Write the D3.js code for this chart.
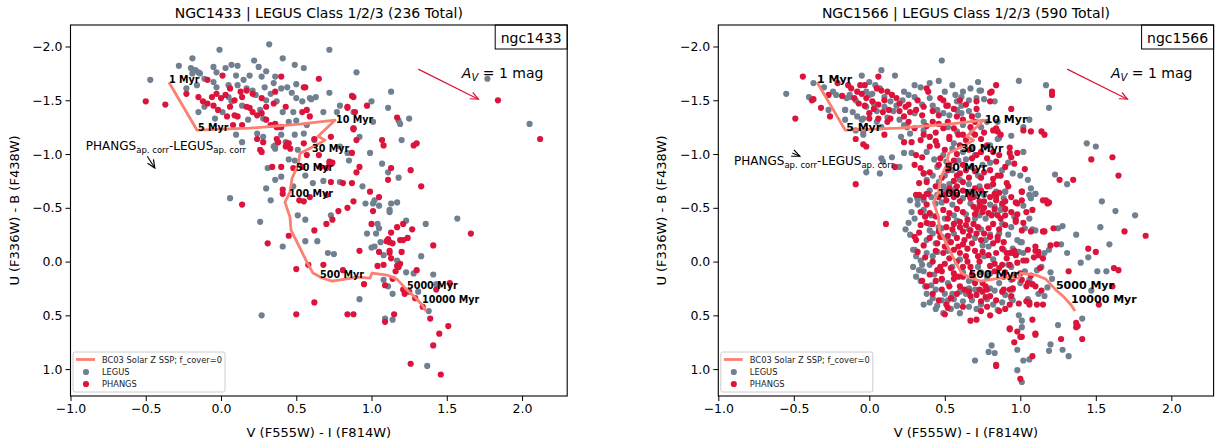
<!DOCTYPE html>
<html><head><meta charset="utf-8">
<script src="https://cdn.jsdelivr.net/npm/d3@7"></script>
<style>body{margin:0;background:#fff} text{font-family:"DejaVu Sans",sans-serif}</style>
</head><body><svg id="fig" width="1216" height="443"></svg>
<script>
// Colour-colour diagrams: V-I vs U-B for two galaxies, LEGUS vs PHANGS photometry
const xTicks = [-1.0, -0.5, 0.0, 0.5, 1.0, 1.5, 2.0];
const yTicks = [-2.0, -1.5, -1.0, -0.5, 0.0, 0.5, 1.0];

// BC03 solar-metallicity SSP track (V-I, U-B)
const sspTrack = [[-0.346,-1.668],[-0.159,-1.222],[0.193,-1.241],[0.525,-1.278],[0.757,-1.315],[0.645,-1.166],[0.691,-1.129],[0.618,-1.073],[0.525,-1.008],[0.512,-0.897],[0.472,-0.776],[0.458,-0.646],[0.425,-0.553],[0.458,-0.414],[0.465,-0.293],[0.525,-0.125],[0.571,0.005],[0.611,0.107],[0.671,0.153],[0.738,0.181],[0.824,0.163],[0.904,0.144],[0.990,0.153],[1.003,0.107],[1.103,0.125],[1.169,0.163],[1.236,0.265],[1.289,0.330],[1.336,0.404],[1.362,0.460]];
const ageLabels = ["1 Myr","5 Myr","10 Myr","30 Myr","50 Myr","100 Myr","500 Myr","5000 Myr","10000 Myr"];
const ageLabelPos = [[-0.346,-1.659],[-0.153,-1.213],[0.764,-1.287],[0.605,-1.018],[0.498,-0.841],[0.452,-0.599],[0.658,0.153],[1.236,0.256],[1.336,0.386]];

const ngc1433Legus = [[0.32,-2.02],[-0.01,-1.97],[0.72,-1.97],[-0.19,-1.89],[-0.28,-1.82],[-0.20,-1.80],[-0.17,-1.78],[-0.15,-1.76],[-0.19,-1.75],[-0.14,-1.75],[-0.05,-1.81],[0.03,-1.80],[0.11,-1.82],[0.07,-1.83],[0.22,-1.87],[0.25,-1.81],[0.30,-1.77],[0.41,-1.89],[0.49,-1.83],[0.55,-1.80],[0.36,-1.72],[0.27,-1.72],[0.19,-1.73],[0.15,-1.69],[0.10,-1.73],[-0.03,-1.76],[-0.11,-1.70],[-0.05,-1.67],[-0.03,-1.62],[-0.16,-1.64],[0.05,-1.64],[0.11,-1.64],[0.17,-1.61],[0.21,-1.59],[0.29,-1.62],[0.35,-1.66],[0.40,-1.61],[0.44,-1.62],[0.50,-1.65],[0.47,-1.57],[0.50,-1.52],[0.54,-1.49],[0.59,-1.52],[0.63,-1.53],[0.68,-1.39],[0.79,-1.45],[0.77,-1.39],[0.72,-1.57],[0.88,-1.39],[0.88,-1.24],[0.30,-1.50],[0.33,-1.56],[0.37,-1.49],[0.41,-1.39],[0.48,-1.39],[0.45,-1.30],[0.50,-1.31],[0.57,-1.27],[0.55,-1.19],[0.49,-1.18],[0.43,-1.11],[0.36,-1.08],[0.40,-1.18],[0.28,-1.16],[0.24,-1.19],[0.14,-1.11],[0.10,-1.18],[-0.04,-1.33],[0.01,-1.39],[0.07,-1.49],[0.14,-1.45],[0.26,-1.41],[0.28,-1.33],[0.18,-1.32],[0.23,-1.55],[0.05,-1.53],[-0.11,-1.44],[-0.15,-1.39],[0.62,-1.13],[0.79,-1.07],[0.84,-1.01],[-0.23,-1.61],[-0.47,-1.69],[0.90,-1.76],[1.13,-1.58],[1.11,-1.43],[1.00,-1.49],[0.60,-1.51],[1.01,-1.30],[1.18,-1.31],[1.19,-1.28],[1.25,-1.33],[0.92,-1.16],[1.20,-1.13],[0.99,-1.01],[0.85,-0.94],[1.07,-0.91],[1.11,-0.83],[1.18,-0.78],[0.94,-0.70],[0.96,-0.54],[1.01,-0.54],[1.02,-0.57],[1.05,-0.52],[1.13,-0.54],[1.17,-0.55],[1.12,-0.48],[1.12,-0.46],[1.77,-1.70],[2.05,-1.28],[1.57,-0.40],[0.61,-0.73],[0.68,-0.75],[0.73,-0.43],[0.56,-0.80],[0.79,-0.74],[0.35,-1.07],[0.36,-1.05],[0.31,-0.87],[0.40,-0.79],[0.36,-0.76],[0.30,-0.68],[0.33,-0.57],[0.45,-0.95],[0.49,-0.94],[0.48,-0.70],[0.51,-0.43],[0.56,-0.39],[1.04,-0.35],[1.05,-0.31],[1.03,-0.26],[0.97,-0.26],[1.06,-0.18],[1.02,-0.14],[1.00,-0.13],[1.08,-0.06],[0.56,-0.19],[0.64,-0.19],[0.71,-0.08],[0.75,-0.07],[0.41,-0.14],[1.23,-0.38],[1.36,-0.35],[1.33,-0.05],[1.17,-0.01],[1.23,0.10],[1.28,0.11],[1.41,0.12],[1.08,0.17],[1.11,0.23],[1.14,0.30],[0.92,0.35],[1.38,0.46],[1.09,0.53],[1.14,0.54],[1.37,0.97],[0.27,0.50],[0.26,-0.37],[0.06,-0.59],[0.51,-1.04],[1.43,0.21],[1.44,0.23],[1.31,0.28]];

const ngc1433Phangs = [[-0.37,-1.46],[-0.23,-1.56],[-0.09,-1.69],[0.01,-1.73],[0.06,-1.61],[-0.15,-1.53],[-0.12,-1.49],[-0.09,-1.47],[-0.06,-1.53],[-0.03,-1.56],[0.00,-1.52],[0.03,-1.55],[-0.05,-1.45],[-0.02,-1.41],[0.06,-1.44],[0.09,-1.50],[0.14,-1.53],[0.17,-1.59],[0.13,-1.58],[0.04,-1.35],[0.09,-1.36],[0.11,-1.35],[0.08,-1.27],[0.14,-1.27],[0.17,-1.44],[0.19,-1.43],[0.21,-1.39],[0.24,-1.36],[0.27,-1.38],[0.30,-1.32],[0.33,-1.27],[0.36,-1.28],[0.37,-1.25],[0.40,-1.25],[0.21,-1.56],[0.27,-1.52],[0.35,-1.47],[0.30,-1.44],[0.36,-1.58],[0.40,-1.72],[0.43,-1.44],[0.56,-1.62],[0.65,-1.70],[0.54,-1.39],[0.59,-1.35],[0.37,-1.14],[0.44,-1.10],[0.28,-1.11],[0.26,-1.04],[0.24,-1.14],[0.55,-1.10],[0.62,-1.14],[0.72,-0.93],[0.88,-1.53],[0.84,-1.44],[0.88,-1.24],[-0.50,-1.49],[0.55,-1.62],[0.87,-1.54],[0.84,-1.43],[0.89,-1.39],[0.97,-1.45],[0.57,-1.41],[1.17,-1.34],[0.88,-1.23],[0.73,-1.16],[0.90,-1.13],[1.07,-1.13],[1.08,-1.08],[1.28,-1.08],[1.30,-1.10],[0.87,-1.01],[0.92,-0.88],[0.90,-0.83],[1.13,-0.87],[1.11,-0.76],[1.26,-0.85],[1.33,-0.70],[0.73,-0.74],[0.81,-0.73],[0.87,-0.73],[0.99,-0.65],[1.05,-0.60],[0.88,-0.56],[0.84,-0.50],[0.78,-0.47],[1.01,-0.47],[1.84,-1.50],[2.12,-1.14],[0.72,-0.91],[0.57,-0.99],[0.65,-0.99],[0.54,-0.88],[0.38,-1.11],[0.45,-1.10],[0.43,-1.07],[0.46,-1.05],[0.27,-1.02],[0.74,-0.92],[0.70,-0.87],[0.66,-0.88],[0.34,-0.88],[0.40,-0.88],[0.48,-0.87],[0.41,-0.67],[0.41,-0.63],[0.52,-0.57],[0.55,-0.56],[0.59,-0.60],[0.70,-0.62],[0.74,-0.39],[0.70,-0.35],[0.62,-0.29],[1.00,-0.35],[1.17,-0.32],[1.21,-0.35],[1.27,-0.30],[1.13,-0.27],[1.11,-0.21],[1.12,-0.18],[1.10,-0.19],[1.19,-0.20],[1.21,-0.20],[1.24,-0.22],[1.14,-0.17],[1.41,-0.15],[1.66,-0.26],[0.92,-0.10],[1.05,-0.09],[1.12,-0.10],[1.12,-0.08],[1.20,-0.09],[1.13,-0.03],[0.31,-0.17],[0.45,-0.24],[1.04,0.04],[1.08,0.03],[1.17,0.04],[1.19,0.02],[1.18,0.05],[1.16,0.09],[1.30,0.08],[0.50,0.07],[0.58,0.03],[0.68,0.03],[0.81,0.08],[0.95,0.21],[1.09,0.22],[1.14,0.16],[1.21,0.26],[1.22,0.30],[1.25,0.28],[1.29,0.34],[1.34,0.42],[1.43,0.26],[1.52,0.20],[0.62,0.38],[0.50,0.49],[0.84,0.49],[0.88,0.49],[1.15,0.49],[1.09,0.56],[1.39,0.53],[1.51,0.60],[1.45,0.67],[1.41,0.78],[1.26,0.95],[1.46,1.05],[0.14,-0.53]];

const ngc1566Legus = [[0.48,-1.87],[0.08,-1.78],[0.17,-1.73],[-0.37,-1.66],[-0.40,-1.53],[-0.30,-1.62],[-0.24,-1.58],[-0.22,-1.55],[-0.13,-1.53],[-0.09,-1.50],[-0.16,-1.41],[-0.08,-1.35],[-0.05,-1.32],[0.00,-1.67],[0.04,-1.64],[0.07,-1.61],[-0.02,-1.58],[0.02,-1.56],[0.10,-1.53],[0.14,-1.49],[0.18,-1.45],[0.23,-1.58],[0.26,-1.55],[0.30,-1.53],[0.30,-1.64],[0.34,-1.62],[0.23,-1.27],[0.25,-1.25],[0.05,-1.30],[0.08,-1.25],[-0.04,-1.21],[-0.09,-1.22],[-0.16,-1.32],[0.42,-1.45],[0.45,-1.41],[0.49,-1.38],[0.53,-1.36],[0.58,-1.49],[0.61,-1.45],[0.67,-1.61],[0.71,-1.52],[0.72,-1.67],[0.74,-1.59],[0.62,-1.27],[0.58,-1.21],[0.68,-1.05],[0.70,-0.99],[0.80,-1.08],[0.85,-1.14],[0.85,-1.30],[0.09,-0.93],[0.08,-0.96],[-0.02,-0.83],[0.07,-0.82],[0.23,-1.01],[0.28,-1.01],[0.38,-1.02],[0.49,-0.99],[0.51,-0.93],[0.45,-0.88],[0.42,-0.80],[0.46,-0.74],[0.49,-0.70],[0.32,-0.59],[0.36,-0.57],[0.67,-0.65],[0.73,-0.70],[0.80,-0.70],[0.84,-0.65],[0.62,-1.02],[0.59,-0.94],[0.73,-1.59],[0.99,-1.68],[1.17,-1.64],[1.19,-1.43],[0.76,-1.51],[0.83,-1.49],[1.06,-1.32],[1.02,-1.25],[0.94,-1.17],[0.86,-1.15],[1.44,-1.10],[1.50,-1.07],[1.02,-1.02],[0.95,-0.82],[1.00,-0.80],[1.23,-0.81],[1.31,-0.72],[1.05,-0.76],[0.90,-0.65],[1.07,-0.68],[1.10,-0.63],[1.07,-0.59],[1.54,-0.56],[1.63,-0.47],[1.76,-0.43],[0.96,-0.42],[0.83,-0.51],[0.88,-0.52],[0.61,-1.53],[1.53,-0.32],[1.37,-0.25],[1.59,-0.16],[1.31,-0.08],[1.27,-0.16],[1.40,0.01],[1.45,-0.04],[1.51,0.09],[1.57,0.09],[1.47,0.27],[1.20,0.10],[1.25,-0.31],[1.28,-0.33],[1.19,-0.11],[1.41,0.53],[1.25,0.59],[1.20,0.77],[1.19,0.83],[1.28,0.82],[1.32,0.88],[1.16,0.32],[0.99,0.50],[1.01,0.55],[1.01,0.61],[0.98,0.82],[1.06,0.91],[1.02,0.92],[0.81,0.78],[0.79,0.84],[0.83,0.85],[0.70,0.92],[0.98,1.01],[1.01,1.12],[0.85,0.45],[0.95,0.36],[1.05,0.35],[0.58,0.41],[1.00,-0.18],[0.80,-0.25],[0.77,-0.20],[0.95,-0.12],[1.02,-0.08],[0.94,0.05],[1.08,-0.30],[1.10,-0.29],[1.02,-0.52],[1.06,-0.62],[1.10,-0.63],[1.16,-0.08],[1.06,0.17],[0.83,0.27],[0.80,0.25],[0.94,0.17],[0.24,-0.30],[0.26,-0.36],[0.29,-0.11],[0.34,-0.01],[0.35,0.03],[0.33,0.08],[0.36,0.09],[0.32,-0.58],[0.37,-0.42],[0.40,-0.35],[0.40,-0.29],[0.44,-0.17],[0.45,-0.09],[0.37,0.23],[0.41,0.22],[0.44,0.26],[0.42,0.34],[0.49,0.48],[0.58,0.41],[0.55,0.30],[0.60,0.28],[0.66,0.25],[0.70,0.26],[0.71,0.44],[0.48,0.17],[0.52,0.20],[0.44,-0.54],[0.41,-0.60],[0.55,-0.53],[0.62,-0.59],[0.67,-0.54],[0.73,-0.43],[0.77,-0.40],[0.80,-0.53],[0.83,-0.45],[0.87,-0.48],[0.89,-0.59],[0.90,-0.65],[0.97,-0.43],[1.03,-0.31],[1.01,-0.18],[0.99,-0.09],[0.89,-0.11],[0.92,0.03],[1.03,0.09],[1.11,0.08],[1.14,0.05],[1.21,0.16],[0.94,0.34],[0.95,0.26],[0.48,0.36],[0.69,0.16],[0.78,0.14],[0.80,0.11],[0.72,0.05],[0.75,-0.15],[0.79,-0.14],[0.70,-0.22],[0.56,-0.26],[0.52,-0.20],[0.48,-0.23],[0.48,-0.31],[0.56,-0.43],[0.50,-0.40],[0.30,-0.11],[0.41,-0.43],[-0.55,-1.56],[-0.27,-1.41],[-0.16,-1.41],[-0.11,-1.39],[-0.04,-1.18],[0.15,-0.97],[0.20,-0.88],[-0.05,-1.73],[-0.15,-1.52],[-0.13,-1.55],[0.00,-1.55],[0.03,-1.47],[-0.04,-1.33],[0.12,-1.34],[0.21,-1.16],[0.27,-1.19],[0.36,-1.22],[0.40,-1.16],[0.46,-1.68],[0.40,-1.66],[0.57,-1.55],[0.58,-1.41],[0.61,-1.38],[0.27,-0.57],[0.32,-0.53],[0.38,-0.76],[0.36,-0.82],
[0.28,-0.46],[0.30,-0.40],[0.27,-0.25],[0.31,-0.05],[0.29,0.05],[0.31,0.14],[0.34,0.18],[0.38,0.30],[0.40,0.38],[0.45,0.41],[0.52,0.36],[0.56,0.35],[0.62,0.37],[0.64,0.30],[0.68,0.36],[0.74,0.40],[0.78,0.35],[0.82,0.40],[0.88,0.38],[0.90,0.31],[0.38,-0.20],[0.42,-0.05],[0.40,0.03],[0.43,0.12],[0.50,0.30],[0.46,-0.32],[0.52,-0.10],[0.55,0.05],[0.62,0.10],[0.66,0.18],[0.58,-0.38],[0.64,-0.44],[0.70,-0.40],[0.66,-0.30],[0.74,-0.30],[0.76,-0.05],[0.82,-0.02],[0.86,-0.26],[0.88,-0.35],[0.92,-0.25],[0.45,-0.62],[0.50,-0.66],[0.53,-0.72],[0.57,-0.68],[0.60,-0.76],[0.66,-0.72],[0.70,-0.62],[0.76,-0.62],[0.72,-0.80],[0.68,-0.88],[0.55,-0.85],[0.50,-0.80],[0.43,-0.95],[0.55,-1.05],[0.64,-0.95],[0.75,-0.90],[0.80,-0.92],[0.88,-0.85],[0.92,-0.92],[0.52,-1.25],[0.56,-1.10],[0.68,-1.20],[0.74,-1.25],[0.78,-1.30],[0.66,-1.40],[0.72,-1.36],[0.36,-1.30],[0.30,-1.38],[0.20,-1.32],[0.16,-1.40],[0.10,-1.44],[0.05,-1.40],[-0.02,-1.44],[0.22,-1.50],[0.35,-1.46],[0.40,-1.52],[0.50,-1.58],[0.55,-1.64],[0.62,-1.58],[0.66,-1.50],[0.36,0.40],[0.44,0.44],[0.54,0.44],[0.60,0.48],[0.66,0.42],[0.96,0.12],[1.00,0.20],[0.86,0.20],[0.74,0.10],[0.60,-0.02],[0.38,-0.08],[0.42,-0.26],[0.36,-0.48],[0.40,-0.66],[0.48,-0.55],[1.12,0.30],[1.18,0.24],[0.98,-0.20],[1.06,-0.40],[0.94,-0.32]];

const ngc1566Phangs = [[-0.44,-1.72],[-0.49,-1.33],[-0.37,-1.51],[-0.32,-1.43],[-0.26,-1.35],[-0.21,-1.66],[-0.14,-1.64],[-0.12,-1.61],[-0.18,-1.54],[-0.08,-1.58],[-0.05,-1.56],[-0.02,-1.52],[0.02,-1.49],[0.06,-1.72],[0.05,-1.61],[0.08,-1.59],[0.12,-1.58],[0.15,-1.55],[0.18,-1.52],[0.20,-1.47],[0.24,-1.44],[0.27,-1.39],[0.31,-1.41],[0.35,-1.36],[0.23,-1.35],[0.26,-1.30],[0.14,-1.33],[0.12,-1.30],[0.00,-1.38],[0.03,-1.42],[-0.07,-1.47],[-0.03,-1.45],[0.38,-1.61],[0.39,-1.58],[0.47,-1.52],[0.51,-1.45],[0.56,-1.42],[0.58,-1.35],[0.62,-1.32],[0.46,-1.28],[0.49,-1.24],[0.71,-1.42],[0.80,-1.49],[0.84,-1.64],[0.81,-1.58],[-0.04,-1.09],[-0.02,-1.07],[0.10,-1.18],[0.23,-1.11],[0.28,-1.11],[0.34,-1.13],[0.36,-1.18],[0.40,-1.16],[0.40,-1.07],[0.45,-1.08],[0.53,-1.14],[0.60,-1.08],[0.64,-1.13],[0.70,-1.18],[0.74,-1.14],[0.82,-1.22],[0.87,-1.18],[0.31,-0.99],[0.35,-0.97],[0.30,-0.90],[0.34,-0.87],[0.36,-0.82],[0.40,-0.83],[0.38,-0.74],[0.47,-0.96],[0.53,-0.90],[0.58,-0.80],[0.64,-0.85],[0.62,-0.74],[0.71,-0.99],[0.78,-0.96],[0.84,-0.93],[0.76,-0.83],[0.82,-0.77],[0.87,-0.80],[0.53,-0.68],[0.58,-0.62],[0.67,-0.59],[0.76,-0.56],[0.84,-0.60],[-0.09,-0.72],[0.38,-0.63],[0.70,-1.30],[0.67,-1.25],[0.80,-1.57],[0.71,-1.49],[1.21,-1.58],[1.21,-1.55],[0.94,-1.42],[0.84,-1.24],[0.85,-1.21],[1.02,-1.22],[1.07,-1.21],[1.14,-1.21],[1.16,-1.18],[0.93,-1.06],[0.86,-0.99],[0.94,-0.97],[0.93,-1.01],[0.98,-1.01],[0.96,-0.91],[1.03,-0.86],[0.85,-0.80],[0.82,-0.72],[0.91,-0.73],[1.01,-0.65],[0.83,-0.63],[0.97,-0.55],[1.17,-0.57],[1.19,-0.55],[1.26,-0.76],[1.35,-0.76],[1.47,-0.95],[1.61,-0.97],[1.65,-0.80],[1.69,-0.28],[1.83,-0.24],[1.45,-0.12],[1.50,-0.09],[1.62,0.06],[1.65,0.08],[1.32,0.09],[1.61,0.23],[1.52,0.40],[1.37,0.57],[1.38,0.60],[1.37,0.61],[1.41,0.72],[1.27,0.72],[1.10,0.68],[0.98,0.65],[1.00,0.70],[0.96,0.75],[0.93,0.63],[0.84,0.97],[1.00,1.09],[1.11,0.40],[1.14,0.27],[1.04,0.37],[1.06,0.38],[0.74,0.37],[0.78,0.42],[0.67,0.55],[0.71,0.54],[0.75,0.28],[0.80,0.32],[0.88,0.28],[0.94,0.32],[1.04,0.23],[1.08,0.21],[1.00,0.11],[1.07,0.13],[1.13,0.06],[1.09,-0.04],[1.12,-0.06],[1.15,-0.03],[1.02,-0.01],[0.98,0.01],[0.93,0.03],[1.05,-0.11],[1.10,-0.10],[1.10,-0.14],[1.01,-0.29],[1.16,-0.28],[0.98,-0.54],[1.01,-0.65],[0.88,-0.54],[0.90,-0.49],[0.97,-0.39],[0.87,-0.40],[0.82,-0.35],[0.75,-0.46],[0.81,-0.43],[0.69,-0.51],[0.73,-0.52],[0.85,-0.23],[0.91,-0.08],[0.95,-0.08],[0.11,-0.35],[0.31,-0.62],[0.36,-0.60],[0.39,-0.63],[0.34,-0.46],[0.37,-0.42],[0.34,-0.34],[0.30,-0.23],[0.32,-0.09],[0.37,-0.04],[0.35,0.18],[0.38,0.23],[0.47,0.05],[0.48,0.16],[0.51,0.40],[0.52,0.43],[0.50,0.49],[0.67,0.32],[0.71,0.31],[0.60,0.23],[0.63,0.26],[0.73,0.26],[0.77,0.23],[0.84,0.36],[0.89,0.26],[0.93,0.26],[0.95,0.25],[0.93,0.40],[0.99,0.39],[1.06,0.40],[1.15,0.40],[1.10,0.23],[1.01,0.17],[1.05,0.20],[1.08,0.54],[0.93,0.62],[1.01,0.70],[1.10,0.67],[1.08,0.88],[0.84,0.96],[1.20,-0.15],[1.24,-0.16],[1.12,-0.09],[1.04,-0.01],[0.91,-0.03],[0.97,-0.06],[0.93,-0.08],[0.96,-0.10],[1.07,-0.28],[1.15,-0.28],[1.22,-0.31],[0.85,-0.20],[0.89,-0.18],[0.80,-0.23],[0.82,-0.17],[0.79,-0.31],[0.85,-0.43],[0.90,-0.43],[0.79,-0.45],[0.83,-0.49],[0.71,-0.48],[0.74,-0.51],[0.73,-0.56],[0.69,-0.60],[0.84,-0.57],[1.01,-0.57],[1.08,-0.48],[1.15,-0.57],[1.18,-0.54],[0.97,-0.37],[0.75,-0.09],[0.79,-0.06],[0.83,0.02],[0.88,0.03],[0.73,0.00],[0.65,0.00],[0.67,0.05],[0.56,-0.11],[0.60,-0.08],[0.53,-0.03],[0.58,0.00],[0.49,-0.08],[0.50,-0.14],[0.45,-0.17],[0.47,-0.23],[0.51,-0.32],[0.56,-0.35],[0.60,-0.37],[0.65,-0.39],[0.69,-0.35],[0.62,-0.28],[0.67,-0.29],[0.71,-0.26],[0.58,-0.22],[0.63,-0.20],[0.68,-0.17],[0.59,-0.14],[0.65,-0.12],[0.49,-0.48],[0.53,-0.45],[0.58,-0.49],[0.62,-0.46],[0.51,-0.57],[0.56,-0.60],[0.60,-0.56],[0.44,-0.42],[0.42,-0.35],[0.45,0.08],[0.48,0.09],[0.56,0.11],[0.59,0.14],[0.48,0.26],[0.53,0.23],[0.77,0.33],[0.78,0.26],[0.75,0.20],[0.89,0.14],[0.83,0.09],[0.33,-0.27],[0.31,-0.20],[0.38,-0.53],[0.33,-0.62],[-0.38,-1.50],[-0.27,-1.55],[-0.09,-1.14],[0.17,-0.88],[-0.06,-1.64],[-0.03,-1.64],[0.00,-1.33],[0.06,-1.33],[0.09,-1.39],[0.13,-1.41],[0.49,-1.50],[0.52,-1.45],[0.42,-1.30],[0.53,-1.16],[0.59,-1.18],[0.33,-0.73],
[0.46,-0.60],[0.50,-0.62],[0.54,-0.65],[0.58,-0.70],[0.62,-0.66],[0.66,-0.62],[0.70,-0.68],[0.74,-0.66],[0.78,-0.70],[0.56,-0.75],[0.60,-0.82],[0.66,-0.78],[0.70,-0.84],[0.74,-0.78],[0.52,-0.85],[0.48,-0.78],[0.44,-0.70],[0.46,-0.90],[0.56,-0.94],[0.62,-0.90],[0.68,-0.96],[0.74,-1.02],[0.66,-1.04],[0.58,-1.00],[0.50,-1.04],[0.44,-1.12],[0.62,-1.18],[0.78,-1.08],[0.82,-1.02],[0.90,-0.88],[0.52,-0.40],[0.55,-0.30],[0.60,-0.32],[0.64,-0.34],[0.66,-0.24],[0.72,-0.32],[0.74,-0.20],[0.76,-0.26],[0.54,-0.18],[0.62,-0.16],[0.70,-0.10],[0.72,-0.05],[0.52,-0.24],[0.46,-0.28],[0.44,-0.10],[0.42,0.00],[0.50,0.02],[0.54,0.06],[0.62,0.05],[0.64,-0.05],[0.56,0.16],[0.62,0.14],[0.68,0.12],[0.70,0.20],[0.66,0.28],[0.58,0.30],[0.54,0.34],[0.62,0.42],[0.74,0.46],[0.80,0.50],[0.86,0.46],[0.90,0.44],[0.70,-0.44],[0.76,-0.50],[0.80,-0.60],[0.86,-0.64],[0.90,-0.56],[0.94,-0.60],[0.92,-0.70],[0.80,-0.85],[0.40,-0.45],[0.38,-0.36],[0.36,-0.15],[0.40,-0.22],[0.40,0.12],[0.44,0.18],[0.42,0.30],[0.46,0.36],[0.86,0.06],[0.90,0.10],[0.95,0.16],[0.88,-0.12],[0.84,-0.08],[0.80,0.04],[0.86,-0.30],[0.90,-0.34],[0.94,-0.46],[0.98,-0.44],[1.04,-0.46],[1.02,-0.36],[0.20,-1.40],[0.26,-1.46],[0.32,-1.50],[0.36,-1.44],[0.42,-1.40],[0.46,-1.36],[0.52,-1.30],[0.44,-1.20],[0.38,-1.26],[0.30,-1.24],[0.06,-1.46],[0.10,-1.50],[-0.10,-1.52],[0.60,-1.50],[0.64,-1.46],[0.68,-1.35],[0.76,-1.20],[0.56,-1.24]];

const panels = [
  {title:"NGC1433 | LEGUS Class 1/2/3 (236 Total)", tag:"ngc1433", legus:ngc1433Legus, phangs:ngc1433Phangs,
   x0:70.5, x1:567.2, xMax:2.30, ageFont:9.6,
   offText:[-0.898,-1.036], offArrow:[[-0.49,-0.98],[-0.44,-0.87]]},
  {title:"NGC1566 | LEGUS Class 1/2/3 (590 Total)", tag:"ngc1566", legus:ngc1566Legus, phangs:ngc1566Phangs,
   x0:718.3, x1:1213.6, xMax:2.28, ageFont:11,
   offText:[-0.896,-0.897], offArrow:[[-0.51,-1.01],[-0.46,-0.98]]}
];
const avArrow = [[1.31,-1.79],[1.71,-1.51]];
const avText = [1.60,-1.71];

const C_LEGUS = "#708090", C_PHANGS = "#dc143c", C_SSP = "#fa8072";
const svg = d3.select("#fig");
const yTop = 25, yBot = 396;

const defs = svg.append("defs");
function headMarker(id, color){
  defs.append("marker").attr("id", id).attr("viewBox","-10 -6 12 12").attr("refX",0).attr("refY",0)
    .attr("markerWidth",12).attr("markerHeight",12).attr("markerUnits","userSpaceOnUse").attr("orient","auto")
    .append("path").attr("d","M-8,-3.5L0,0L-8,3.5").attr("fill","none").attr("stroke",color).attr("stroke-width",1.2);
}
headMarker("headRed", C_PHANGS);
headMarker("headBlack", "#000");

panels.forEach(p => {
  const x = d3.scaleLinear().domain([-1, p.xMax]).range([p.x0, p.x1]);
  const y = d3.scaleLinear().domain([-2.2, 1.25]).range([yTop, yBot]);
  const g = svg.append("g");
  const cx = (p.x0 + p.x1) / 2;

  const clipId = "clip-" + p.tag;
  defs.append("clipPath").attr("id", clipId).append("rect")
    .attr("x", p.x0).attr("y", yTop).attr("width", p.x1 - p.x0).attr("height", yBot - yTop);
  const plot = g.append("g").attr("clip-path", `url(#${clipId})`);

  plot.append("g").selectAll("circle").data(p.legus).join("circle")
    .attr("cx", d => x(d[0])).attr("cy", d => y(d[1])).attr("r", 3.1).attr("fill", C_LEGUS);
  plot.append("g").selectAll("circle").data(p.phangs).join("circle")
    .attr("cx", d => x(d[0])).attr("cy", d => y(d[1])).attr("r", 3.1).attr("fill", C_PHANGS);

  plot.append("path").datum(sspTrack)
    .attr("d", d3.line().x(d => x(d[0])).y(d => y(d[1])))
    .attr("fill","none").attr("stroke", C_SSP).attr("stroke-width", 2.8).attr("stroke-linejoin","round");

  plot.append("g").selectAll("text").data(ageLabels).join("text")
    .attr("x", (d,i) => x(ageLabelPos[i][0])).attr("y", (d,i) => y(ageLabelPos[i][1]))
    .attr("font-size", p.ageFont).attr("font-weight","bold").text(d => d);

  // reddening vector
  plot.append("line").attr("x1", x(avArrow[0][0])).attr("y1", y(avArrow[0][1]))
    .attr("x2", x(avArrow[1][0])).attr("y2", y(avArrow[1][1]))
    .attr("stroke", C_PHANGS).attr("stroke-width", 1.2).attr("marker-end","url(#headRed)");
  const av = plot.append("text").attr("x", x(avText[0])).attr("y", y(avText[1])).attr("font-size", 14);
  av.append("tspan").attr("font-style","italic").text("A");
  av.append("tspan").attr("font-style","italic").attr("font-size", 10).attr("dy", 3).text("V");
  av.append("tspan").attr("dy", -3).text(" = 1 mag");

  // mean photometric offset
  const ot = plot.append("text").attr("x", x(p.offText[0])).attr("y", y(p.offText[1])).attr("font-size", 12);
  ot.append("tspan").text("PHANGS");
  ot.append("tspan").attr("font-size", 8.5).attr("dy", 3).text("ap. corr");
  ot.append("tspan").attr("dy", -3).text("-LEGUS");
  ot.append("tspan").attr("font-size", 8.5).attr("dy", 3).text("ap. corr");
  plot.append("line").attr("x1", x(p.offArrow[0][0])).attr("y1", y(p.offArrow[0][1]))
    .attr("x2", x(p.offArrow[1][0])).attr("y2", y(p.offArrow[1][1]))
    .attr("stroke", "#000").attr("stroke-width", 1.1).attr("marker-end","url(#headBlack)");

  // galaxy tag box
  const tw = 72;
  g.append("rect").attr("x", p.x1 - tw).attr("y", yTop).attr("width", tw).attr("height", 24)
    .attr("fill","#fff").attr("stroke","#000").attr("stroke-width",1);
  g.append("text").attr("x", p.x1 - tw/2).attr("y", yTop + 18).attr("text-anchor","middle")
    .attr("font-size", 14).text(p.tag);

  // legend
  const lx = p.x0 + 2.5, ly = 352;
  const lg = g.append("g");
  lg.append("rect").attr("x", lx).attr("y", ly).attr("width", 152).attr("height", 40).attr("rx", 2)
    .attr("fill","#fff").attr("fill-opacity",0.8).attr("stroke","#cccccc").attr("stroke-width",1);
  lg.append("line").attr("x1", lx + 3).attr("x2", lx + 22).attr("y1", ly + 7.5).attr("y2", ly + 7.5)
    .attr("stroke", C_SSP).attr("stroke-width", 2.8);
  lg.append("circle").attr("cx", lx + 13).attr("cy", ly + 20).attr("r", 3.1).attr("fill", C_LEGUS);
  lg.append("circle").attr("cx", lx + 13).attr("cy", ly + 32).attr("r", 3.1).attr("fill", C_PHANGS);
  [["BC03 Solar Z SSP; f_cover=0", 10.5], ["LEGUS", 23], ["PHANGS", 35]].forEach(([t, dy]) => {
    lg.append("text").attr("x", lx + 29).attr("y", ly + dy).attr("font-size", 8.3).attr("fill","#222").text(t);
  });

  // axes
  g.append("g").attr("transform", `translate(0,${yBot})`)
    .call(d3.axisBottom(x).tickValues(xTicks).tickSize(5).tickPadding(3).tickFormat(d3.format(".1f")))
    .call(a => { a.select(".domain").remove(); a.selectAll("text").attr("font-size", 12.5).attr("font-family","DejaVu Sans"); });
  g.append("g").attr("transform", `translate(${p.x0},0)`)
    .call(d3.axisLeft(y).tickValues(yTicks).tickSize(5).tickPadding(3).tickFormat(d3.format(".1f")))
    .call(a => { a.select(".domain").remove(); a.selectAll("text").attr("font-size", 12.5).attr("font-family","DejaVu Sans"); });
  g.append("rect").attr("x", p.x0).attr("y", yTop).attr("width", p.x1 - p.x0).attr("height", yBot - yTop)
    .attr("fill","none").attr("stroke","#000").attr("stroke-width",1.1);

  g.append("text").attr("x", cx).attr("y", 18).attr("text-anchor","middle").attr("font-size", 14).text(p.title);
  g.append("text").attr("x", cx).attr("y", 437).attr("text-anchor","middle").attr("font-size", 13).text("V (F555W) - I (F814W)");
  g.append("text").attr("transform", `translate(${p.x0 - 52},${(yTop + yBot)/2}) rotate(-90)`)
    .attr("text-anchor","middle").attr("font-size", 13).text("U (F336W) - B (F438W)");
});
</script></body></html>
